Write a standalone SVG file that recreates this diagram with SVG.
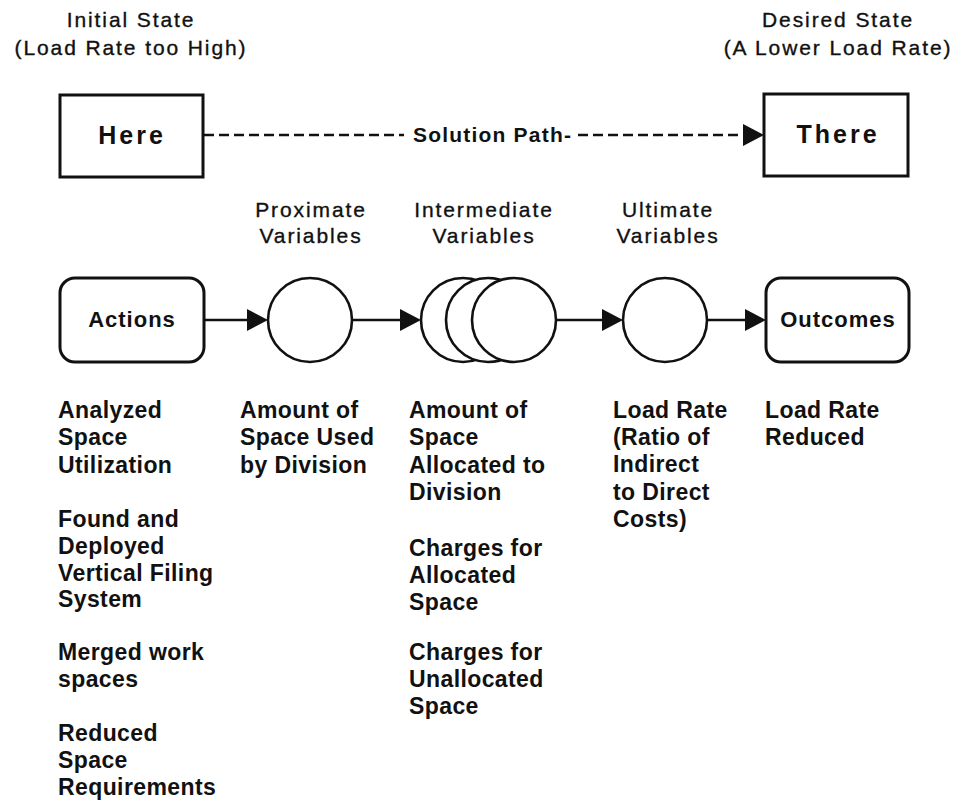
<svg xmlns="http://www.w3.org/2000/svg" width="964" height="800" viewBox="0 0 964 800">
<style>
text{font-family:"Liberation Sans",Arial,sans-serif;fill:#111}
.hdr{font-size:21px;letter-spacing:1.9px;text-anchor:middle;stroke:#111;stroke-width:0.35}
.big{font-size:25px;font-weight:bold;letter-spacing:3px;text-anchor:middle}
.sol{font-size:21px;font-weight:bold;letter-spacing:1.2px}
.box{font-size:22px;font-weight:bold;letter-spacing:1px;text-anchor:middle}
.body{font-size:23px;font-weight:bold;letter-spacing:0.4px}
.shape{fill:#fff;stroke:#111;stroke-width:3}
.circ{fill:#fff;stroke:#111;stroke-width:2.6}
.conn{stroke:#111;stroke-width:2.6;fill:none}
.dash{stroke:#111;stroke-width:2.6;fill:none;stroke-dasharray:10 5}
</style>
<defs>
<marker id="ah" markerUnits="userSpaceOnUse" markerWidth="22" markerHeight="24" refX="0" refY="11" orient="auto">
<path d="M0,0 L21,11 L0,22 Z" fill="#111"/>
</marker>
</defs>

<g id="labels-top">
<text class="hdr" x="131" y="27">Initial State</text>
<text class="hdr" x="131" y="55">(Load Rate too High)</text>
<text class="hdr" x="838" y="27">Desired State</text>
<text class="hdr" x="838" y="55">(A Lower Load Rate)</text>
<text class="hdr" x="311" y="217">Proximate</text>
<text class="hdr" x="311" y="243">Variables</text>
<text class="hdr" x="484" y="217">Intermediate</text>
<text class="hdr" x="484" y="243">Variables</text>
<text class="hdr" x="668" y="217">Ultimate</text>
<text class="hdr" x="668" y="243">Variables</text>
</g>

<g id="connectors">
<line class="dash" x1="204" y1="135" x2="404" y2="135"/>
<line class="dash" x1="578" y1="135" x2="743" y2="135" marker-end="url(#ah)"/>
<line class="conn" x1="204" y1="320" x2="247" y2="320" marker-end="url(#ah)"/>
<line class="conn" x1="352" y1="320" x2="400" y2="320" marker-end="url(#ah)"/>
<line class="conn" x1="556" y1="320" x2="602" y2="320" marker-end="url(#ah)"/>
<line class="conn" x1="707" y1="320" x2="745" y2="320" marker-end="url(#ah)"/>
<text class="sol" x="413" y="142">Solution Path-</text>
</g>

<g id="here">
<rect class="shape" x="60" y="95" width="143" height="82"/>
<text class="big" x="132" y="144">Here</text>
</g>
<g id="there">
<rect class="shape" x="764" y="94" width="144" height="82"/>
<text class="big" x="838" y="143">There</text>
</g>

<g id="actions">
<rect class="shape" x="60" y="278" width="144" height="84" rx="15"/>
<text class="box" x="132" y="327">Actions</text>
</g>
<g id="proximate">
<circle class="circ" cx="310" cy="320" r="42"/>
</g>
<g id="intermediate">
<circle class="circ" cx="463" cy="320" r="42"/>
<circle class="circ" cx="488" cy="320" r="42"/>
<circle class="circ" cx="514" cy="320" r="42"/>
</g>
<g id="ultimate">
<circle class="circ" cx="665" cy="320" r="42"/>
</g>
<g id="outcomes">
<rect class="shape" x="766" y="278" width="143" height="84" rx="15"/>
<text class="box" x="838" y="327">Outcomes</text>
</g>

<g id="col-actions">
<text class="body" x="58" y="418">Analyzed</text>
<text class="body" x="58" y="445">Space</text>
<text class="body" x="58" y="473">Utilization</text>
<text class="body" x="58" y="527">Found and</text>
<text class="body" x="58" y="554">Deployed</text>
<text class="body" x="58" y="581">Vertical Filing</text>
<text class="body" x="58" y="607">System</text>
<text class="body" x="58" y="660">Merged work</text>
<text class="body" x="58" y="687">spaces</text>
<text class="body" x="58" y="741">Reduced</text>
<text class="body" x="58" y="768">Space</text>
<text class="body" x="58" y="795">Requirements</text>
</g>
<g id="col-proximate">
<text class="body" x="240" y="418">Amount of</text>
<text class="body" x="240" y="445">Space Used</text>
<text class="body" x="240" y="473">by Division</text>
</g>
<g id="col-intermediate">
<text class="body" x="409" y="418">Amount of</text>
<text class="body" x="409" y="445">Space</text>
<text class="body" x="409" y="473">Allocated to</text>
<text class="body" x="409" y="500">Division</text>
<text class="body" x="409" y="556">Charges for</text>
<text class="body" x="409" y="583">Allocated</text>
<text class="body" x="409" y="610">Space</text>
<text class="body" x="409" y="660">Charges for</text>
<text class="body" x="409" y="687">Unallocated</text>
<text class="body" x="409" y="714">Space</text>
</g>
<g id="col-ultimate">
<text class="body" x="613" y="418">Load Rate</text>
<text class="body" x="613" y="445">(Ratio of</text>
<text class="body" x="613" y="472">Indirect</text>
<text class="body" x="613" y="500">to Direct</text>
<text class="body" x="613" y="527">Costs)</text>
</g>
<g id="col-outcomes">
<text class="body" x="765" y="418">Load Rate</text>
<text class="body" x="765" y="445">Reduced</text>
</g>
</svg>
